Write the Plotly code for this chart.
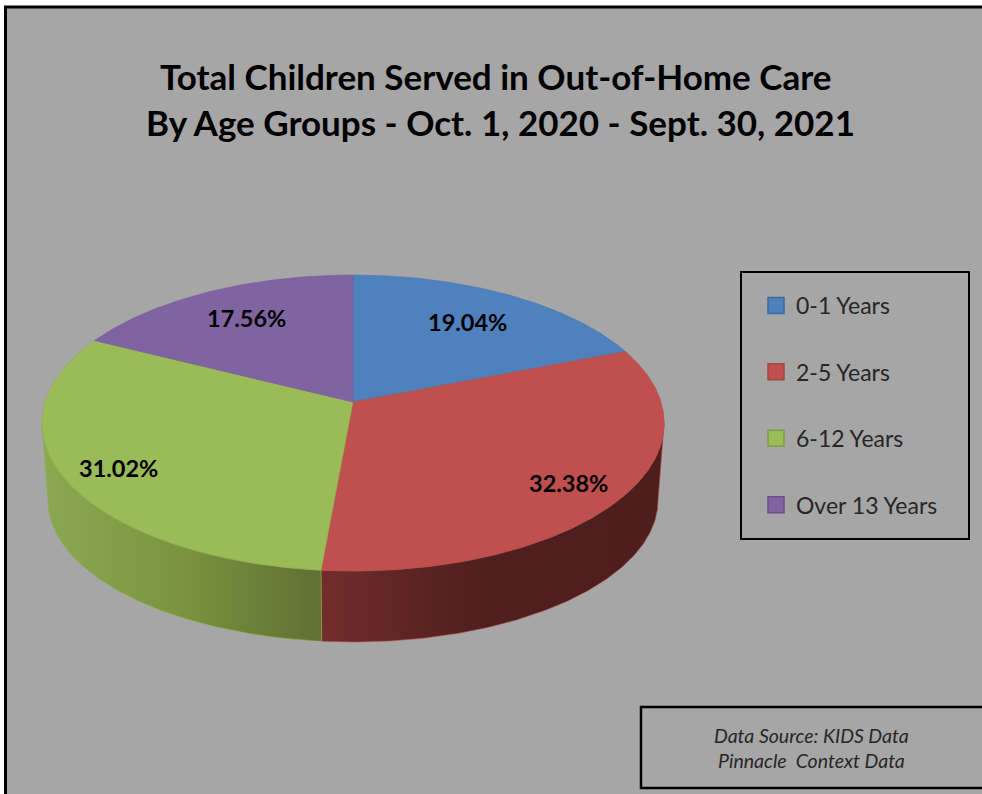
import math
import plotly.graph_objects as go

# --- data ---
categories = ["0-1 Years", "2-5 Years", "6-12 Years", "Over 13 Years"]
percentages = [19.04, 32.38, 31.02, 17.56]
title_lines = ["Total Children Served in Out-of-Home Care",
               "By Age Groups - Oct. 1, 2020 - Sept. 30, 2021"]
source_lines = ["Data Source: KIDS Data", "Pinnacle\u00a0 Context Data"]

# --- styles ---
top_colors = ["#4F81BD", "#C0504D", "#9BBB59", "#8064A2"]
edge_colors = ["#4A7AB3", "#B54B48", "#8FAE50", "#775C97"]
key_line_colors = ["#3A6A9E", "#A84542", "#7E9A45", "#6A4F8A"]
side_scales = [
    None,
    [[0, "#732C2C"], [0.25, "#5E2524"], [0.5, "#4F1E1E"], [1, "#4E1D1D"]],
    [[0, "#8BA851"], [0.5, "#79933F"], [1, "#5F7033"]],
    None,
]
side_ranges = [None, (322, 660), (48, 322), None]
label_pos = [(467, 322), (568, 483), (118, 468), (246, 318)]
FONT = "Lato, Carlito, Calibri, sans-serif"
BG = "#A6A6A6"

# --- projection of a tilted disc (apex, half-axes, perspective) ---
CX, CY, A, B, K = 353, 402, 308, 145, 0.142
CX2, CY2, A2, B2 = 353, 480, 302, 139


def rim(theta, cx=CX, cy=CY, a=A, b=B):
    u, v = math.sin(theta), math.cos(theta)
    w = 1 + K * v
    return cx + a * u / w, cy - b * v / w


def arc(t0, t1, **kw):
    n = max(2, int(abs(t1 - t0) / 0.01))
    return [rim(t0 + (t1 - t0) * i / n, **kw) for i in range(n + 1)]


total = sum(percentages)
edges = [0]
for p in percentages:
    edges.append(edges[-1] + p / total * 2 * math.pi)

fig = go.Figure()

# Sides: extrusion between upper and lower rim, only the part facing the viewer
VIS0, VIS1 = math.radians(98), math.radians(262)
for i in range(len(percentages)):
    t0, t1 = max(edges[i], VIS0), min(edges[i + 1], VIS1)
    if side_scales[i] is None or t1 <= t0:
        continue
    up = arc(t0, t1)
    lo = arc(t1, t0, cx=CX2, cy=CY2, a=A2, b=B2)
    pts = up + lo + [up[0]]
    fig.add_trace(go.Scatter(
        x=[p[0] for p in pts], y=[p[1] for p in pts], mode="lines",
        line=dict(width=0.6, color=edge_colors[i]), fill="toself",
        fillgradient=dict(type="horizontal", colorscale=side_scales[i],
                          start=side_ranges[i][0], stop=side_ranges[i][1]),
        showlegend=False, hoverinfo="skip"))

# Top face wedges
for i, cat in enumerate(categories):
    pts = [(CX, CY)] + arc(edges[i], edges[i + 1]) + [(CX, CY)]
    fig.add_trace(go.Scatter(
        x=[p[0] for p in pts], y=[p[1] for p in pts], mode="lines",
        line=dict(width=0.6, color=edge_colors[i]), fill="toself",
        fillcolor=top_colors[i], showlegend=False, name=cat,
        text=f"{percentages[i]:.2f}%", hoverinfo="name+text"))

# Legend keys
for i, cat in enumerate(categories):
    fig.add_trace(go.Scatter(
        x=[None], y=[None], mode="markers", name=cat, legendgroup=cat,
        marker=dict(symbol="square", size=16, color=top_colors[i],
                    line=dict(width=1.5, color=key_line_colors[i]))))

annotations = []
for (x, y), p in zip(label_pos, percentages):
    annotations.append(dict(x=x, y=y, text=f"<b>{p:.2f}%</b>", showarrow=False,
                            font=dict(family=FONT, size=23.5, color="black")))
for (x, y), t in zip([(495, 76), (500, 122)], title_lines):
    annotations.append(dict(x=x, y=y, text=f"<b>{t}</b>", showarrow=False,
                            font=dict(family=FONT, size=35, color="black")))
for (x, y), t in zip([(811, 735), (811, 760)], source_lines):
    annotations.append(dict(x=x, y=y, text=f"<i>{t}</i>", showarrow=False,
                            font=dict(family=FONT, size=19.5, color="#262626")))

shapes = [
    dict(type="rect", x0=5.5, y0=7, x1=1000, y1=820, fillcolor=BG,
         line=dict(color="black", width=3), layer="below"),
    dict(type="rect", x0=741, y0=272, x1=969, y1=539,
         line=dict(color="black", width=2), layer="below"),
    dict(type="rect", x0=641, y0=707, x1=1000, y1=788,
         line=dict(color="black", width=2.5), layer="below"),
]

fig.update_layout(
    width=982, height=794, margin=dict(l=0, r=0, t=0, b=0),
    paper_bgcolor="white", plot_bgcolor="white",
    xaxis=dict(range=[0, 982], visible=False, fixedrange=True),
    yaxis=dict(range=[794, 0], visible=False, fixedrange=True),
    annotations=annotations, shapes=shapes,
    legend=dict(x=756 / 982, y=1 - 284 / 794, xanchor="left", yanchor="top",
                bgcolor="rgba(0,0,0,0)", borderwidth=0, tracegroupgap=33.5,
                font=dict(family=FONT, size=23, color="#262626")),
    showlegend=True,
)

fig.write_html("out.html", config={"displayModeBar": False},
               post_script="document.body.style.margin='0';document.body.style.overflow='hidden';")
